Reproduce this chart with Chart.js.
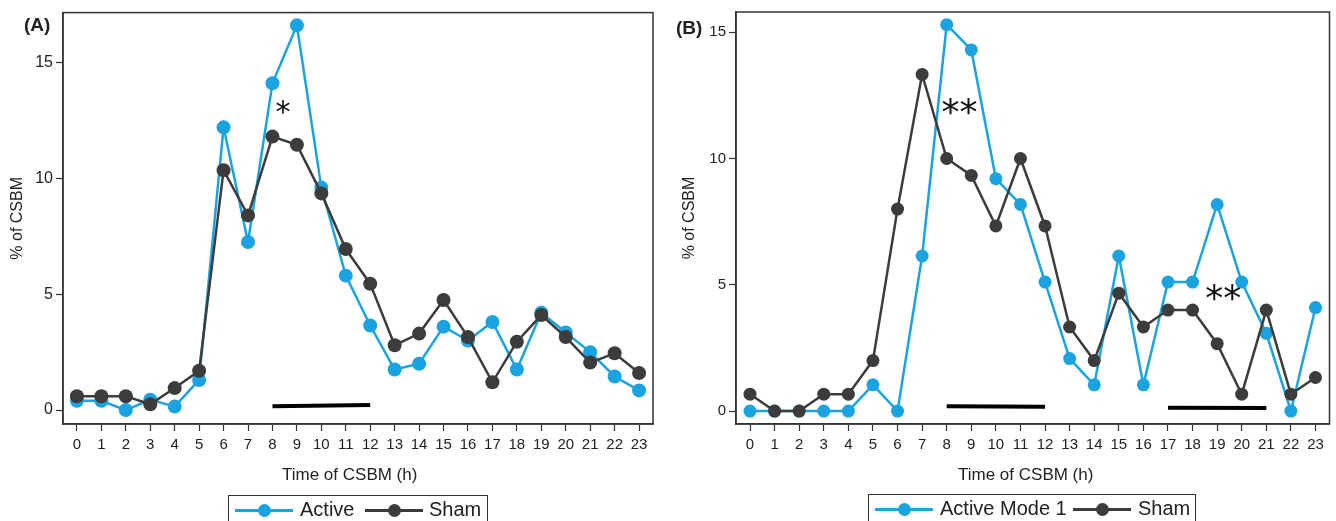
<!DOCTYPE html>
<html>
<head>
<meta charset="utf-8">
<script src="https://cdn.jsdelivr.net/npm/chart.js@4.4.1/dist/chart.umd.min.js"></script>
<style>
  body { margin: 0; background: #fff; font-family: "Liberation Sans", Arial, sans-serif; color: #222; }
  #wrap { position: relative; width: 1336px; height: 521px; overflow: hidden; }
  canvas { position: absolute; top: 0; }
  .lbl { position: absolute; white-space: nowrap; }
  .panel { font-weight: bold; font-size: 19px; line-height: 20px; }
  .xtitle { font-size: 17px; line-height: 17px; }
  .legend { position: absolute; border: 1.5px solid #333; height: 40px; background: #fff; }
  .legend .txt { position: absolute; top: 3px; font-size: 20px; line-height: 20px; }
  .legend .mk { position: absolute; top: 13px; height: 3px; }
  .legend .dot { position: absolute; top: -5px; width: 13px; height: 13px; border-radius: 50%; }
</style>
</head>
<body>
<div id="wrap">
  <canvas id="chartA" width="668" height="521" style="left:0"></canvas>
  <canvas id="chartB" width="668" height="521" style="left:668px"></canvas>

  <div class="lbl panel" style="left:24px;top:15px">(A)</div>
  <div class="lbl panel" style="left:676px;top:18px">(B)</div>
  <div class="lbl xtitle" style="left:282px;top:466px">Time of CSBM (h)</div>
  <div class="lbl xtitle" style="left:958px;top:466px">Time of CSBM (h)</div>

  <div class="legend" style="left:228px;top:495px;width:258px">
    <div class="mk" style="left:6px;width:58px;background:#1aa3e0"><div class="dot" style="left:23px;background:#1aa3e0"></div></div>
    <div class="txt" style="left:71px">Active</div>
    <div class="mk" style="left:136px;width:58px;background:#3c3c3c"><div class="dot" style="left:23px;background:#3c3c3c"></div></div>
    <div class="txt" style="left:200px">Sham</div>
  </div>
  <div class="legend" style="left:868px;top:494px;width:326px">
    <div class="mk" style="left:6px;width:58px;background:#1aa3e0"><div class="dot" style="left:23px;background:#1aa3e0"></div></div>
    <div class="txt" style="left:71px">Active Mode 1</div>
    <div class="mk" style="left:204px;width:58px;background:#3c3c3c"><div class="dot" style="left:23px;background:#3c3c3c"></div></div>
    <div class="txt" style="left:269px">Sham</div>
  </div>
</div>

<script>
const hours = [0, 1, 2, 3, 4, 5, 6, 7, 8, 9, 10, 11, 12, 13, 14, 15, 16, 17, 18, 19, 20, 21, 22, 23];

// panel A: Active vs Sham
const activeA = [0.4, 0.4, 0, 0.45, 0.15, 1.3, 12.2, 7.25, 14.1, 16.6, 9.6, 5.8, 3.65, 1.75, 2.0, 3.6, 3.0, 3.8, 1.75, 4.2, 3.35, 2.5, 1.45, 0.85];
const shamA = [0.6, 0.6, 0.6, 0.25, 0.95, 1.7, 10.35, 8.4, 11.8, 11.45, 9.35, 6.95, 5.45, 2.8, 3.3, 4.75, 3.15, 1.2, 2.95, 4.1, 3.15, 2.05, 2.45, 1.6];

// panel B: Active Mode 1 vs Sham
const activeB = [0, 0, 0, 0, 0, 1.04, 0, 6.14, 15.3, 14.3, 9.2, 8.18, 5.11, 2.08, 1.04, 6.14, 1.04, 5.11, 5.11, 8.18, 5.11, 3.08, 0, 4.1];
const shamB = [0.67, 0, 0, 0.67, 0.67, 2.0, 8.0, 13.33, 10.0, 9.33, 7.33, 10.0, 7.33, 3.33, 2.0, 4.67, 3.33, 4.0, 4.0, 2.67, 0.67, 4.0, 0.67, 1.33];

const yTicksA = [0, 5, 10, 15];
const yTicksB = [0, 5, 10, 15];

// significance bars (hour range, height)
const barsA = [{ x: [8, 12], y: [0.17, 0.22] }];
const barsB = [{ x: [8, 12], y: [0.19, 0.17] }, { x: [17, 21], y: [0.13, 0.12] }];

// asterisks
const starsA = [{ x: 8.43, y: 13.08, text: "*" }];
const starsB = [{ x: 8.52, y: 12.04, text: "**" }, { x: 19.25, y: 4.68, text: "**" }];

const BLUE = "#1aa3e0";
const DARK = "#3c3c3c";
const AXIS = "#333";

const framePlugin = {
    id: "frame",
    afterDraw(chart) {
        const a = chart.chartArea;
        const ctx = chart.ctx;
        ctx.save();
        ctx.strokeStyle = AXIS;
        ctx.lineWidth = 1.5;
        ctx.strokeRect(a.left, a.top, a.right - a.left, a.bottom - a.top);
        ctx.restore();
    }
};

const starPlugin = {
    id: "stars",
    afterDatasetsDraw(chart, args, opts) {
        const ctx = chart.ctx;
        const xs = chart.scales.x, ys = chart.scales.y;
        ctx.save();
        ctx.fillStyle = "#111";
        ctx.font = opts.size + 'px "DejaVu Sans", sans-serif';
        ctx.textAlign = "center";
        ctx.textBaseline = "alphabetic";
        opts.items.forEach(s => {
            const m = ctx.measureText(s.text);
            const px = xs.getPixelForValue(s.x);
            const py = ys.getPixelForValue(s.y);
            ctx.fillText(s.text, px, py + (m.actualBoundingBoxAscent - m.actualBoundingBoxDescent) / 2);
        });
        ctx.restore();
    }
};

function makeChart(id, active, sham, bars, stars, cfg) {
    const pts = arr => arr.map((v, i) => ({ x: hours[i], y: v }));
    const barSets = bars.map(b => ({
        data: b.x.map((x, i) => ({ x: x, y: b.y[i] })),
        borderColor: "#000",
        borderWidth: 4,
        pointRadius: 0,
        order: 3
    }));
    return new Chart(document.getElementById(id), {
        type: "line",
        data: {
            datasets: [
                ...barSets,
                { label: cfg.activeLabel, data: pts(active), borderColor: BLUE, backgroundColor: BLUE,
                  borderWidth: 2.5, pointRadius: cfg.r, pointBorderWidth: 0, order: 2 },
                { label: "Sham", data: pts(sham), borderColor: DARK, backgroundColor: DARK,
                  borderWidth: 2.5, pointRadius: cfg.r, pointBorderWidth: 0, order: 1 }
            ]
        },
        options: {
            responsive: false,
            animation: false,
            events: [],
            layout: { padding: { left: 0, top: 12, right: cfg.padRight, bottom: 57 } },
            plugins: {
                legend: { display: false },
                tooltip: { enabled: false },
                stars: { items: stars, size: cfg.starSize }
            },
            scales: {
                x: {
                    type: "linear",
                    min: -0.57,
                    max: 23.57,
                    afterBuildTicks: s => { s.ticks = hours.map(v => ({ value: v })); },
                    afterFit: s => { s.height = 40; },
                    grid: { drawOnChartArea: false, drawTicks: true, tickLength: 7, tickColor: AXIS, tickWidth: 1.2 },
                    border: { display: true, color: AXIS, width: 1.5 },
                    ticks: { autoSkip: false, maxRotation: 0, padding: 5, color: "#222",
                             font: { size: 15, family: '"Liberation Sans", Arial, sans-serif' } }
                },
                y: {
                    min: cfg.yMin,
                    max: cfg.yMax,
                    afterBuildTicks: s => { s.ticks = cfg.yTicks.map(v => ({ value: v })); },
                    afterFit: s => { s.width = cfg.yWidth; },
                    grid: { drawOnChartArea: false, drawTicks: true, tickLength: 7, tickColor: AXIS, tickWidth: 1.2 },
                    border: { display: true, color: AXIS, width: 1.5 },
                    ticks: { padding: 3, color: "#222",
                             font: { size: cfg.yFont, family: '"Liberation Sans", Arial, sans-serif' } },
                    title: { display: true, text: "% of CSBM", color: "#222", padding: { top: cfg.titlePad, bottom: 0 },
                             font: { size: 16, family: '"Liberation Sans", Arial, sans-serif' } }
                }
            }
        },
        plugins: [framePlugin, starPlugin]
    });
}

makeChart("chartA", activeA, shamA, barsA, starsA, {
    activeLabel: "Active", r: 7, padRight: 15, yMin: -0.6, yMax: 17.15, yTicks: yTicksA,
    yWidth: 63, yFont: 16, titlePad: 8, starSize: 30
});
makeChart("chartB", activeB, shamB, barsB, starsB, {
    activeLabel: "Active Mode 1", r: 6.5, padRight: 2, yMin: -0.51, yMax: 15.8, yTicks: yTicksB,
    yWidth: 68, yFont: 15, titlePad: 12, starSize: 36
});
</script>
</body>
</html>
